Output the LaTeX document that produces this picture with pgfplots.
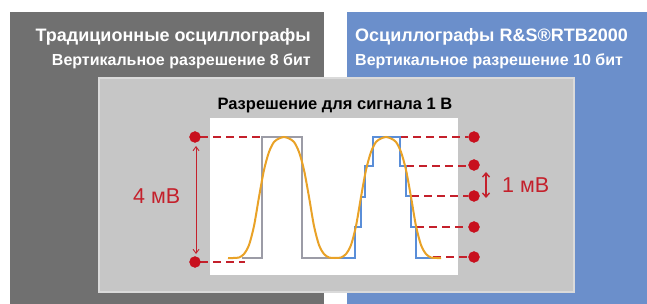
\documentclass[border=0pt]{standalone}
\usepackage{pgfplots}
\pgfplotsset{compat=1.18}
\usepackage{fontspec}
\setmainfont{Liberation Sans}
\usetikzlibrary{arrows.meta}
\definecolor{darkpanel}{HTML}{707070}
\definecolor{bluepanel}{HTML}{6B8FCB}
\definecolor{lightpanel}{HTML}{C6C6C6}
\definecolor{lightedge}{HTML}{DADADA}
\definecolor{redc}{HTML}{C4202B}
\definecolor{dotc}{HTML}{C8101E}
\definecolor{orangec}{HTML}{E9A227}
\definecolor{bluec}{HTML}{5A8ED8}
\definecolor{grayc}{HTML}{9C9CA6}
\begin{document}
\begin{tikzpicture}
\begin{axis}[width=647pt,height=304pt,scale only axis,
  xmin=0,xmax=647,ymin=0,ymax=304,y dir=reverse,
  hide axis,clip=false]
% background
\addplot[fill=white,draw=none] coordinates {(0,0) (647,0) (647,304) (0,304)} -- cycle;
% panels
\addplot[fill=darkpanel,draw=none] coordinates {(10,12) (324,12) (324,304) (10,304)} -- cycle;
\addplot[fill=bluepanel,draw=none] coordinates {(347,12) (647,12) (647,304) (347,304)} -- cycle;
\addplot[fill=lightpanel,draw=lightedge,line width=2pt] coordinates {(99,78) (574,78) (574,292) (99,292)} -- cycle;
\addplot[fill=white,draw=none] coordinates {(210,118) (458,118) (458,275) (210,275)} -- cycle;
% red dashed reference lines
\addplot[redc,line width=2.5pt,dash pattern=on 8pt off 5pt] coordinates {(200,137) (283,137)};
\addplot[redc,line width=2.5pt,dash pattern=on 8pt off 5pt] coordinates {(200,262) (245,262)};
\addplot[redc,line width=2.5pt,dash pattern=on 8pt off 5pt] coordinates {(400,137) (468,137)};
\addplot[redc,line width=2.5pt,dash pattern=on 8pt off 5pt] coordinates {(406,166) (468,166)};
\addplot[redc,line width=2.5pt,dash pattern=on 8pt off 5pt] coordinates {(411,196) (468,196)};
\addplot[redc,line width=2.5pt,dash pattern=on 8pt off 5pt] coordinates {(416,227) (468,227)};
\addplot[redc,line width=2.5pt,dash pattern=on 8pt off 5pt] coordinates {(433,257) (468,257)};
% 8-bit square wave (gray)
\addplot[grayc,line width=2pt] coordinates {(242,258) (262,258) (262,137) (302,137) (302,258) (332,258)};
% 10-bit staircase (blue)
\addplot[bluec,line width=2pt] coordinates {(332,258) (355,258) (355,227) (361,227) (361,197) (365,197) (365,166) (373,166) (373,137) (400,137) (400,166) (406,166) (406,196) (411,196) (411,227) (416,227) (416,258) (434,258)};
% analog signal (orange)
\addplot[orangec,line width=2pt,smooth] coordinates {
(228,258) (233,258) (239,257.5) (244,254) (249,245) (254,226) (259,197) (264,170) (269,152) (274,142) (279,138.5)
(284,137) (289,138.5) (294,142) (299,152) (304,170) (309,197) (314,226) (319,245) (324,254) (329,257.5)
(335,258) (341,257.5) (346,254) (351,245) (356,226) (361,197) (366,170) (371,152) (376,142) (381,138.5)
(386,137) (391,138.5) (396,142) (401,152) (406,170) (411,197) (416,226) (421,245) (426,254) (431,257.5)
(437,258) (441,258)};
% dots
\addplot[only marks,mark=*,mark size=5.5pt,color=dotc] coordinates {(195,137) (195,262) (474,137) (474,165) (474,196) (474,227) (474,257)};
% arrows
\addplot[redc,line width=0.9pt,{Straight Barb[length=4pt,width=6pt]}-{Straight Barb[length=4pt,width=6pt]}] coordinates {(196,146) (196,254)};
\addplot[redc,line width=1.4pt,{Straight Barb[length=4pt,width=7pt]}-{Straight Barb[length=4pt,width=7pt]}] coordinates {(486,172) (486,198)};
% texts
\node[inner sep=0pt,anchor=base east,text=white,font=\bfseries\fontsize{18}{20}\selectfont] at (axis cs:311,42) {Традиционные осциллографы};
\node[inner sep=0pt,anchor=base east,text=white,font=\bfseries\fontsize{16}{18}\selectfont] at (axis cs:311,66) {Вертикальное разрешение 8 бит};
\node[inner sep=0pt,anchor=base west,text=white,font=\bfseries\fontsize{18}{20}\selectfont] at (axis cs:355,42) {Осциллографы R\&S®RTB2000};
\node[inner sep=0pt,anchor=base west,text=white,font=\bfseries\fontsize{16}{18}\selectfont] at (axis cs:355,66) {Вертикальное разрешение 10 бит};
\node[inner sep=0pt,anchor=base,text=black,font=\bfseries\fontsize{16.5}{18}\selectfont] at (axis cs:335,110) {Разрешение для сигнала 1 В};
\node[inner sep=0pt,anchor=base west,text=redc,font=\fontsize{21.5}{24}\selectfont] at (axis cs:133,204) {4 мВ};
\node[inner sep=0pt,anchor=base west,text=redc,font=\fontsize{21.5}{24}\selectfont] at (axis cs:502,193) {1 мВ};
\end{axis}
\end{tikzpicture}
\end{document}
